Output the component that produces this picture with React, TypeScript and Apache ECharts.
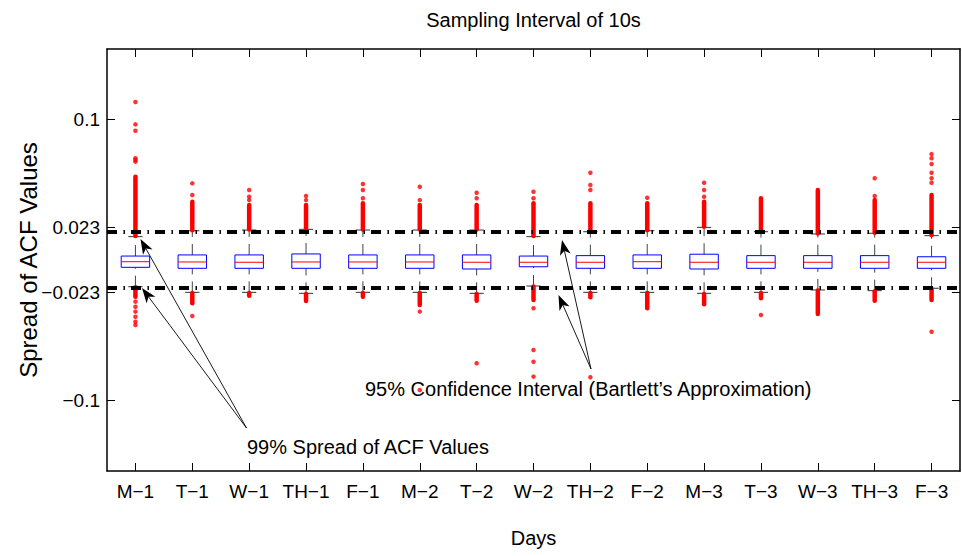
import React, { useEffect, useRef } from 'react';
import * as echarts from 'echarts';

const categories = ['M−1', 'T−1', 'W−1', 'TH−1', 'F−1', 'M−2', 'T−2', 'W−2', 'TH−2', 'F−2', 'M−3', 'T−3', 'W−3', 'TH−3', 'F−3'];

// [lower whisker, Q1, median, Q3, upper whisker]
const boxStats = [
  [-0.0190, -0.0052, -0.0012, 0.0028, 0.0166],
  [-0.0230, -0.0059, -0.0014, 0.0036, 0.0208],
  [-0.0230, -0.0059, -0.0016, 0.0036, 0.0213],
  [-0.0237, -0.0059, -0.0014, 0.0043, 0.0218],
  [-0.0230, -0.0059, -0.0014, 0.0036, 0.0213],
  [-0.0230, -0.0059, -0.0014, 0.0036, 0.0213],
  [-0.0237, -0.0064, -0.0016, 0.0036, 0.0213],
  [-0.0185, -0.0048, -0.0016, 0.0028, 0.0166],
  [-0.0230, -0.0059, -0.0016, 0.0031, 0.0201],
  [-0.0230, -0.0059, -0.0012, 0.0036, 0.0208],
  [-0.0237, -0.0064, -0.0016, 0.0041, 0.0232],
  [-0.0230, -0.0059, -0.0016, 0.0031, 0.0201],
  [-0.0213, -0.0059, -0.0016, 0.0031, 0.0185],
  [-0.0218, -0.0059, -0.0016, 0.0031, 0.0190],
  [-0.0201, -0.0059, -0.0016, 0.0023, 0.0173],
];

// densely packed outliers above the upper whisker: [from, to]
const denseUpper = [
  [0.0170, 0.0592], [0.0212, 0.0414], [0.0217, 0.0391], [0.0222, 0.0391], [0.0217, 0.0403],
  [0.0217, 0.0391], [0.0217, 0.0391], [0.0170, 0.0403], [0.0205, 0.0403], [0.0212, 0.0403],
  [0.0236, 0.0414], [0.0205, 0.0439], [0.0189, 0.0498], [0.0194, 0.0426], [0.0177, 0.0462],
];

// densely packed outliers below the lower whisker: [from, to]
const denseLower = [
  [-0.0194, -0.0261], [-0.0234, -0.0308], [-0.0234, -0.0254], [-0.0241, -0.0291], [-0.0234, -0.0261],
  [-0.0234, -0.0320], [-0.0241, -0.0289], [-0.0189, -0.0284], [-0.0234, -0.0265], [-0.0234, -0.0343],
  [-0.0241, -0.0315], [-0.0234, -0.0272], [-0.0217, -0.0384], [-0.0222, -0.0289], [-0.0205, -0.0284],
];

// isolated outliers per day
const sparseOutliers = [
  [0.0699, 0.0711, 0.0723, 0.0919, 0.0964, 0.1123, -0.0296, -0.0332, -0.0367, -0.0403, -0.0439, -0.0462],
  [0.0462, 0.0545, -0.0398],
  [0.0426, 0.0450, 0.0498],
  [0.0426, 0.0455],
  [0.0439, 0.0498, 0.0540],
  [0.0426, 0.0521, -0.0367, -0.0924],
  [0.0439, 0.0478, -0.0734],
  [0.0439, 0.0485, -0.0343, -0.0640, -0.0723, -0.0829],
  [0.0498, 0.0533, 0.0620, -0.0834],
  [0.0443],
  [0.0450, 0.0498, 0.0549],
  [-0.0391],
  [],
  [0.0455, 0.0581],
  [0.0549, 0.0581, 0.0620, 0.0682, 0.0723, 0.0753, -0.0510],
];

const yTicks = [-0.1, -0.023, 0.023, 0.1];
const confidenceLimits = [0.023, -0.023];

const FONT = 'Liberation Sans, Arial, Helvetica, sans-serif';

function arrow(x1: number, y1: number, x2: number, y2: number) {
  const dx = x2 - x1, dy = y2 - y1;
  const L = Math.hypot(dx, dy);
  const ux = dx / L, uy = dy / L;
  const px = -uy, py = ux;
  const len = 15, hw = 5.5, notch = 4;
  const bx = x2 - ux * len, by = y2 - uy * len;
  const nx = x2 - ux * (len - notch), ny = y2 - uy * (len - notch);
  return [
    { type: 'line', z: 100, shape: { x1, y1, x2: nx, y2: ny }, style: { stroke: '#000', lineWidth: 0.9 } },
    {
      type: 'polygon', z: 100,
      shape: { points: [[x2, y2], [bx + px * hw, by + py * hw], [nx, ny], [bx - px * hw, by - py * hw]] },
      style: { fill: '#000' },
    },
  ];
}

export default function App() {
  const ref = useRef<HTMLDivElement>(null);
  useEffect(() => {
    document.body.style.margin = '0';
    const chart = echarts.init(ref.current as HTMLDivElement, null, { renderer: 'svg' });

    const boxData = boxStats.map((s, i) => [i, ...s]);
    const denseData: number[][] = [];
    denseUpper.forEach((d, i) => denseData.push([i, d[0], d[1]]));
    denseLower.forEach((d, i) => denseData.push([i, d[0], d[1]]));
    const scatterData: number[][] = [];
    sparseOutliers.forEach((arr, i) => arr.forEach((v) => scatterData.push([i, v])));

    const axisLineStyle = { color: '#000', width: 1.5 };
    const tickStyle = { color: '#000', width: 1 };

    chart.setOption({
      animation: false,
      textStyle: { fontFamily: FONT },
      grid: { left: 107, right: 2, top: 49, bottom: 85, containLabel: false, outerBoundsMode: 'none' },
      xAxis: [
        {
          type: 'category', data: categories, position: 'bottom', boundaryGap: true,
          axisLine: { show: true, onZero: false, lineStyle: axisLineStyle },
          axisTick: { show: true, inside: true, length: 8, alignWithLabel: true, lineStyle: tickStyle },
          axisLabel: { color: '#000', fontSize: 19, fontFamily: FONT, margin: 11, interval: 0 },
          splitLine: { show: false },
          name: 'Days', nameLocation: 'middle', nameGap: 57, nameMoveOverlap: false,
          nameTextStyle: { color: '#000', fontSize: 20, fontFamily: FONT },
        },
        {
          type: 'category', data: categories, position: 'top', boundaryGap: true,
          axisLine: { show: true, onZero: false, lineStyle: axisLineStyle },
          axisTick: { show: true, inside: true, length: 8, alignWithLabel: true, lineStyle: tickStyle },
          axisLabel: { show: false },
          splitLine: { show: false },
        },
      ],
      yAxis: [
        {
          type: 'value', min: -0.15, max: 0.15, position: 'left',
          axisLine: { show: true, onZero: false, lineStyle: axisLineStyle },
          axisTick: { show: true, inside: true, length: 8, customValues: yTicks, lineStyle: tickStyle },
          axisLabel: {
            customValues: yTicks, color: '#000', fontSize: 19, fontFamily: FONT, margin: 7,
            formatter: (v: number) => String(v).replace('-', '−'),
          },
          splitLine: { show: false },
          name: 'Spread of ACF Values', nameLocation: 'middle', nameGap: 67, nameMoveOverlap: false,
          nameTextStyle: { color: '#000', fontSize: 24, fontFamily: FONT },
        },
        {
          type: 'value', min: -0.15, max: 0.15, position: 'right',
          axisLine: { show: true, onZero: false, lineStyle: axisLineStyle },
          axisTick: { show: true, inside: true, length: 8, customValues: yTicks, lineStyle: tickStyle },
          axisLabel: { show: false },
          splitLine: { show: false },
        },
      ],
      series: [
        {
          type: 'custom', name: 'box', z: 2,
          data: boxData,
          encode: { x: 0, y: [1, 2, 3, 4, 5] },
          renderItem: (params: any, api: any) => {
            const i = api.value(0);
            const band = api.size([1, 0])[0];
            const bw = band * 0.5, cw = band * 0.25;
            const pLo = api.coord([i, api.value(1)]);
            const pQ1 = api.coord([i, api.value(2)]);
            const pMd = api.coord([i, api.value(3)]);
            const pQ3 = api.coord([i, api.value(4)]);
            const pHi = api.coord([i, api.value(5)]);
            const x = pMd[0];
            const wStyle = { stroke: '#444', lineWidth: 1, lineDash: [11, 7] };
            return {
              type: 'group',
              children: [
                { type: 'line', shape: { x1: x, y1: pQ3[1], x2: x, y2: pHi[1] }, style: wStyle },
                { type: 'line', shape: { x1: x, y1: pLo[1], x2: x, y2: pQ1[1] }, style: wStyle },
                { type: 'line', shape: { x1: x - cw / 2, y1: pHi[1], x2: x + cw / 2, y2: pHi[1] }, style: { stroke: '#333', lineWidth: 1 } },
                { type: 'line', shape: { x1: x - cw / 2, y1: pLo[1], x2: x + cw / 2, y2: pLo[1] }, style: { stroke: '#333', lineWidth: 1 } },
                { type: 'rect', shape: { x: x - bw / 2, y: pQ3[1], width: bw, height: pQ1[1] - pQ3[1] }, style: { fill: '#fff', stroke: '#0000ff', lineWidth: 1 } },
                { type: 'line', shape: { x1: x - bw / 2, y1: pMd[1], x2: x + bw / 2, y2: pMd[1] }, style: { stroke: '#ff0000', lineWidth: 1 } },
              ],
            };
          },
        },
        {
          type: 'custom', name: 'dense outliers', z: 3,
          data: denseData,
          encode: { x: 0, y: [1, 2] },
          renderItem: (params: any, api: any) => {
            const i = api.value(0);
            const a = api.coord([i, api.value(1)]);
            const b = api.coord([i, api.value(2)]);
            return {
              type: 'line',
              shape: { x1: a[0], y1: a[1], x2: b[0], y2: b[1] },
              style: { stroke: '#ff0000', lineWidth: 4.5, lineCap: 'round' },
            };
          },
        },
        {
          type: 'scatter', name: 'outliers', z: 3,
          data: scatterData, symbol: 'circle', symbolSize: 4.5,
          itemStyle: { color: '#ff0000' },
        },
        {
          type: 'scatter', name: 'limits', z: 10, data: [],
          markLine: {
            silent: true, symbol: ['none', 'none'], animation: false,
            label: { show: false },
            lineStyle: { color: '#000', width: 4, type: [10, 6.5, 1.5, 6], cap: 'butt' },
            emphasis: { disabled: true },
            data: confidenceLimits.map((v) => ({ yAxis: v })),
          },
        },
      ],
      graphic: [
        {
          type: 'text', x: 533.5, y: 20, z: 100,
          style: { text: 'Sampling Interval of 10s', fill: '#000', font: `20px ${FONT}`, textAlign: 'center', textVerticalAlign: 'middle' },
        },
        {
          type: 'text', x: 247, y: 447, z: 100,
          style: { text: '99% Spread of ACF Values', fill: '#000', font: `20px ${FONT}`, textAlign: 'left', textVerticalAlign: 'middle' },
        },
        {
          type: 'text', x: 365, y: 389, z: 100,
          style: { text: '95% Confidence Interval (Bartlett’s Approximation)', fill: '#000', font: `20px ${FONT}`, textAlign: 'left', textVerticalAlign: 'middle' },
        },
        ...arrow(246.5, 428, 140.5, 239),
        ...arrow(246.5, 428, 142, 288),
        ...arrow(591, 369, 562, 240),
        ...arrow(591, 369, 558.5, 295),
      ],
    });
    return () => chart.dispose();
  }, []);
  return <div ref={ref} style={{ width: 962, height: 556 }} />;
}
